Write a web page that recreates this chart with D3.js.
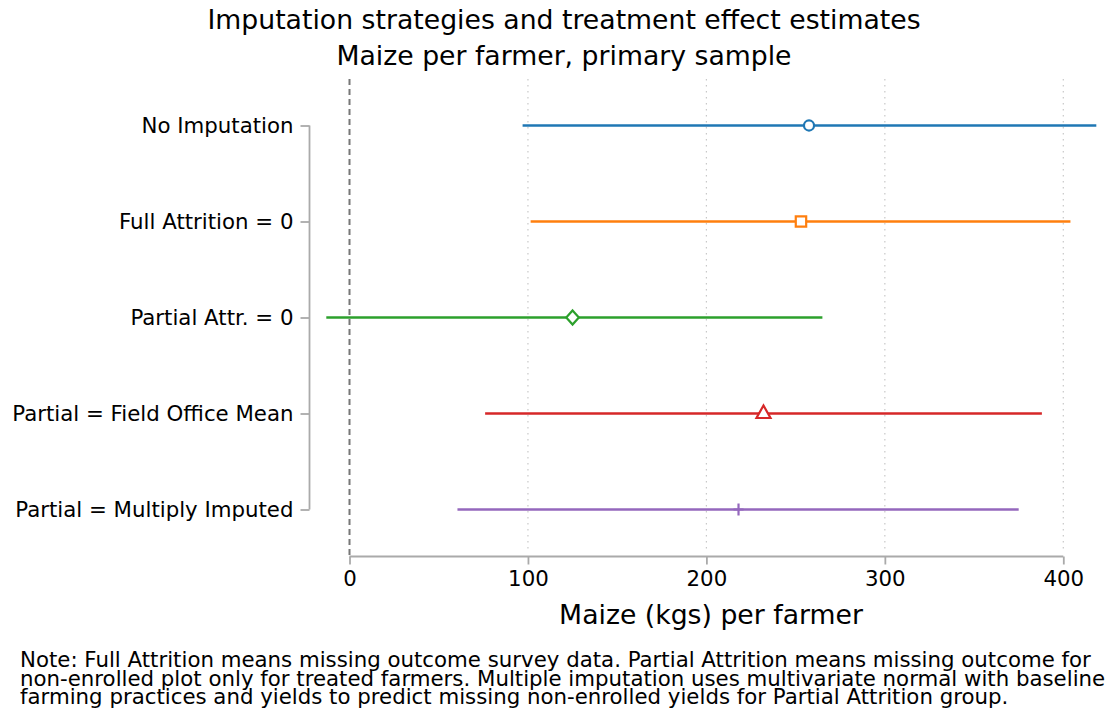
<!DOCTYPE html>
<html>
<head>
<meta charset="utf-8">
<script src="https://cdn.jsdelivr.net/npm/d3@7"></script>
<style>
  body { margin: 0; background: #fff; }
  text { font-family: "DejaVu Sans", sans-serif; fill: #000; }
</style>
</head>
<body>
<svg width="1111" height="717"></svg>
<script>
var categories = ["No Imputation", "Full Attrition = 0", "Partial Attr. = 0",
  "Partial = Field Office Mean", "Partial = Multiply Imputed"];
var estimates = [257.5, 253, 125, 232, 218];
var lower = [97, 101.5, -13, 76, 60.5];
var upper = [418.5, 404, 265, 388, 375];
var colors = ["#1f77b4", "#ff7f0e", "#2ca02c", "#d62728", "#9467bd"];
var markers = ["circle", "square", "diamond", "triangle", "plus"];
var xTicks = [0, 100, 200, 300, 400];

var svg = d3.select("svg");

var x = d3.scaleLinear().domain([0, 400]).range([349.5, 1063.3]);
var y = d3.scalePoint().domain(categories).range([125.5, 509.5]);

var gridTop = 79, axisY = 556.5, spineX = 309.5;

// title
svg.append("text").attr("x", 564).attr("y", 29).attr("text-anchor", "middle")
  .style("font-size", "26.7px").text("Imputation strategies and treatment effect estimates");
svg.append("text").attr("x", 564).attr("y", 65).attr("text-anchor", "middle")
  .style("font-size", "26.7px").text("Maize per farmer, primary sample");

// grid
svg.append("g").selectAll("line").data(xTicks.slice(1)).join("line")
  .attr("x1", d => x(d)).attr("x2", d => x(d))
  .attr("y1", gridTop).attr("y2", axisY - 4)
  .attr("stroke", "#c8c8c8").attr("stroke-width", 1.2)
  .attr("stroke-dasharray", "1.5,4.5");

svg.append("line").attr("x1", x(0)).attr("x2", x(0))
  .attr("y1", gridTop).attr("y2", axisY)
  .attr("stroke", "#777777").attr("stroke-width", 2)
  .attr("stroke-dasharray", "6,4");

// x axis
var xAxis = svg.append("g").attr("transform", "translate(0," + axisY + ")")
  .call(d3.axisBottom(x).tickValues(xTicks).tickSize(8).tickPadding(6));
xAxis.select(".domain").attr("d", "M" + x(0) + ",0H" + x(400)).attr("stroke", "#aaaaaa").attr("stroke-width", 1.8);
xAxis.selectAll(".tick line").attr("stroke", "#aaaaaa").attr("stroke-width", 1.8);
xAxis.selectAll(".tick text").style("font-size", "21.3px").style("font-family", "DejaVu Sans").attr("fill", "#000");

// y axis
var yAxis = svg.append("g").attr("transform", "translate(" + spineX + ",0)")
  .call(d3.axisLeft(y).tickSize(9).tickPadding(7));
yAxis.select(".domain").attr("d", "M0," + y(categories[0]) + "V" + y(categories[4])).attr("stroke", "#aaaaaa").attr("stroke-width", 1.8);
yAxis.selectAll(".tick line").attr("stroke", "#aaaaaa").attr("stroke-width", 1.8);
yAxis.selectAll(".tick text").style("font-size", "21.3px").style("font-family", "DejaVu Sans").attr("fill", "#000");

// x label
svg.append("text").attr("x", 711).attr("y", 624).attr("text-anchor", "middle")
  .style("font-size", "26.7px").text("Maize (kgs) per farmer");

// intervals
var g = svg.append("g");
g.selectAll("line").data(categories).join("line")
  .attr("x1", (d, i) => x(lower[i])).attr("x2", (d, i) => x(upper[i]))
  .attr("y1", d => y(d)).attr("y2", d => y(d))
  .attr("stroke", (d, i) => colors[i]).attr("stroke-width", 2.5);

function markerPath(m) {
  if (m === "circle") return d3.symbol().type(d3.symbolCircle).size(80)();
  if (m === "square") return "M-5.2,-5.2H5.2V5.2H-5.2Z";
  if (m === "diamond") return "M0,-7L6.3,0L0,7L-6.3,0Z";
  if (m === "triangle") return "M0,-7L7,5.5L-7,5.5Z";
  return "M-5,0H5M0,-6V6";
}

categories.forEach(function (c, i) {
  var m = markers[i];
  g.append("path")
    .attr("d", markerPath(m))
    .attr("transform", "translate(" + x(estimates[i]) + "," + (m === "triangle" ? y(c) - 1 : y(c)) + ")")
    .attr("fill", m === "plus" ? "none" : "#fff")
    .attr("stroke", colors[i]).attr("stroke-width", 2.2);
});

// note
var note = ["Note: Full Attrition means missing outcome survey data. Partial Attrition means missing outcome for",
  "non-enrolled plot only for treated farmers. Multiple imputation uses multivariate normal with baseline",
  "farming practices and yields to predict missing non-enrolled yields for Partial Attrition group."];
svg.append("g").selectAll("text").data(note).join("text")
  .attr("x", 20).attr("y", (d, i) => 667 + i * 18.5)
  .style("font-size", "21.3px").text(d => d);
</script>
</body>
</html>
